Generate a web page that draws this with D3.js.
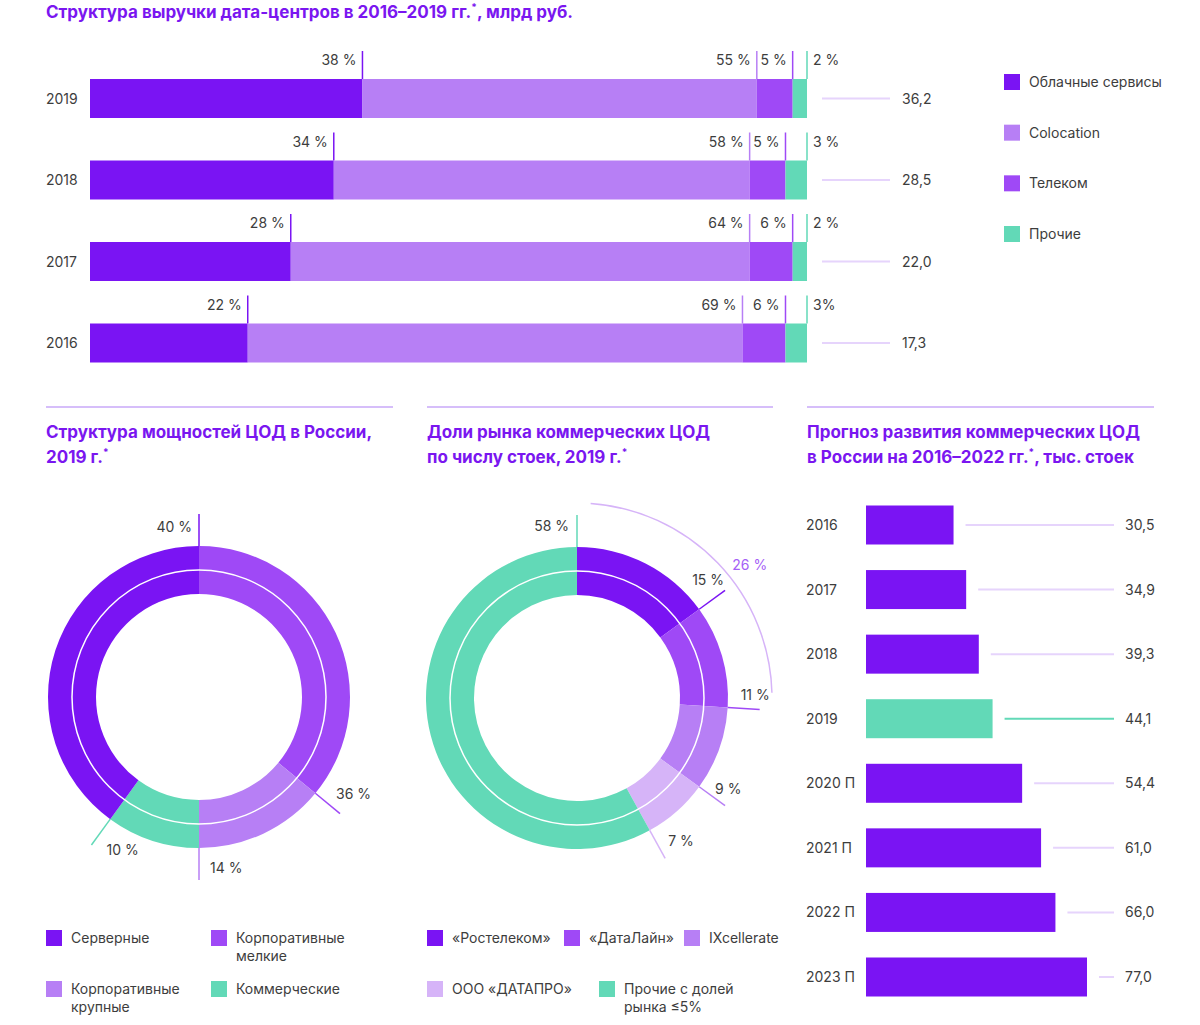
<!DOCTYPE html>
<html><head><meta charset="utf-8">
<script src="https://cdn.jsdelivr.net/npm/d3@7"></script>
<style>
body{margin:0;background:#fff}
svg text{font-family:Inter,"Noto Sans",sans-serif}
</style>
</head><body>
<script>
// ---------------- DATA ----------------
const revenueYears = ["2019", "2018", "2017", "2016"];
const revenueSeries = ["Облачные сервисы", "Colocation", "Телеком", "Прочие"];
const revenueCloud = [38, 34, 28, 22];
const revenueColo = [55, 58, 64, 69];
const revenueTelecom = [5, 5, 6, 6];
const revenueOther = [2, 3, 2, 3];
const revenueOtherLabels = ["2 %", "3 %", "2 %", "3%"];
const revenueTotals = [36.2, 28.5, 22.0, 17.3];

const capacityCats = ["Корпоративные мелкие", "Корпоративные крупные", "Коммерческие", "Серверные"];
const capacityValues = [36, 14, 10, 40];
const capacityLegendOrder = ["Серверные", "Корпоративные мелкие", "Корпоративные крупные", "Коммерческие"];

const marketCats = ["«Ростелеком»", "«ДатаЛайн»", "IXcellerate", "ООО «ДАТАПРО»", "Прочие с долей рынка ≤5%"];
const marketValues = [15, 11, 9, 7, 58];

const forecastYears = ["2016", "2017", "2018", "2019", "2020 П", "2021 П", "2022 П", "2023 П"];
const forecastValues = [30.5, 34.9, 39.3, 44.1, 54.4, 61.0, 66.0, 77.0];
const forecastHighlight = "2019";

// ---------------- STYLE ----------------
const C_DARK = "#7a14f3", C_MED = "#9f49f6", C_LIGHT = "#b77ff5", C_LAV = "#d6b4f8", C_TEAL = "#62d9b7";
const TITLE = "#7a16f0", TXT = "#3d3d3d", LINE_LAV = "#e6d4fc", DIV = "#c9a8f8";
const revenueColors = [C_DARK, C_LIGHT, C_MED, C_TEAL];
const capacityColor = d3.scaleOrdinal().domain(capacityCats).range([C_MED, C_LIGHT, C_TEAL, C_DARK]);
const marketColor = d3.scaleOrdinal().domain(marketCats).range([C_DARK, C_MED, C_LIGHT, C_LAV, C_TEAL]);
const fmt1 = v => d3.format(".1f")(v).replace(".", ",");

const svg = d3.select("body").append("svg").attr("width", 1200).attr("height", 1025);

function title(x, y, lines) {
  lines.forEach((parts, li) => {
    const t = svg.append("text").attr("x", x).attr("y", y + li * 25)
      .attr("fill", TITLE).attr("font-size", 17).attr("font-weight", 700);
    let lower = false;
    parts.forEach(p => {
      if (p === "*") {
        t.append("tspan").attr("font-size", 10).attr("dy", -7).text("*");
        lower = true;
      } else {
        const s = t.append("tspan").text(p);
        if (lower) { s.attr("dy", 7); lower = false; }
      }
    });
  });
}
function wrap(name, max) {
  const words = name.split(" "), out = [];
  let cur = "";
  words.forEach(w => {
    if (cur && (cur + " " + w).length > max) { out.push(cur); cur = w; }
    else cur = cur ? cur + " " + w : w;
  });
  out.push(cur);
  return out;
}
function legendItem(x, y, color, name, max) {
  svg.append("rect").attr("x", x).attr("y", y - 8).attr("width", 16).attr("height", 16).attr("fill", color);
  const lines = wrap(name, max);
  const t = svg.append("text").attr("x", x + 25).attr("y", y + 5).attr("font-size", 14).attr("fill", TXT);
  lines.forEach((l, i) => t.append("tspan").attr("x", x + 25).attr("dy", i ? 18 : 0).text(l));
}

// ---------------- TOP: revenue stacked bars ----------------
title(46, 18, [["Структура выручки дата-центров в 2016–2019 гг.", "*", ", млрд руб."]]);

const revRows = revenueYears.map((y, i) => ({
  year: y, cloud: revenueCloud[i], colo: revenueColo[i], telecom: revenueTelecom[i], other: revenueOther[i], total: revenueTotals[i], idx: i
}));
const revKeys = ["cloud", "colo", "telecom", "other"];
const revStack = d3.stack().keys(revKeys)(revRows);
const xRev = d3.scaleLinear().domain([0, 100]).range([90, 807]);
const yRev = d3.scalePoint().domain(revenueYears).range([98.5, 343]);
const revBarH = 39;

revStack.forEach((series, k) => {
  const g = svg.append("g");
  g.selectAll("rect").data(series).join("rect")
    .attr("x", d => xRev(d[0])).attr("width", d => xRev(d[1]) - xRev(d[0]))
    .attr("y", d => yRev(d.data.year) - revBarH / 2).attr("height", revBarH)
    .attr("fill", revenueColors[k]);
  g.selectAll("line").data(series).join("line")
    .attr("x1", d => xRev(d[1])).attr("x2", d => xRev(d[1]))
    .attr("y1", d => yRev(d.data.year) - revBarH / 2 - 28).attr("y2", d => yRev(d.data.year) - revBarH / 2)
    .attr("stroke", revenueColors[k]).attr("stroke-width", 1.5);
  g.selectAll("text").data(series).join("text")
    .attr("x", d => k < 3 ? xRev(d[1]) - 6 : xRev(d[1]) + 6)
    .attr("y", d => yRev(d.data.year) - revBarH / 2 - 14)
    .attr("text-anchor", k < 3 ? "end" : "start")
    .attr("font-size", 14).attr("fill", TXT)
    .text(d => k < 3 ? `${d.data[revKeys[k]]} %` : revenueOtherLabels[d.data.idx]);
});
const lastSeries = revStack[revStack.length - 1];
svg.append("g").selectAll("line").data(lastSeries).join("line")
  .attr("x1", d => xRev(d[1]) + 15).attr("x2", 890)
  .attr("y1", d => yRev(d.data.year)).attr("y2", d => yRev(d.data.year))
  .attr("stroke", LINE_LAV).attr("stroke-width", 2);
svg.append("g").selectAll("text").data(revRows).join("text")
  .attr("x", 902).attr("y", d => yRev(d.year) + 5)
  .attr("font-size", 14).attr("fill", TXT).text(d => fmt1(d.total));
svg.append("g").selectAll("text").data(revRows).join("text")
  .attr("x", 46).attr("y", d => yRev(d.year) + 5)
  .attr("font-size", 14).attr("fill", TXT).text(d => d.year);

const yRevLeg = d3.scalePoint().domain(revenueSeries).range([82, 234]);
revenueSeries.forEach((s, i) => legendItem(1004, yRevLeg(s), revenueColors[i], s, 40));

// ---------------- dividers & section titles ----------------
[[46, 393], [427, 773], [807, 1154]].forEach(([a, b]) =>
  svg.append("line").attr("x1", a).attr("x2", b).attr("y1", 407).attr("y2", 407)
    .attr("stroke", DIV).attr("stroke-width", 1.5));
title(46, 438, [["Структура мощностей ЦОД в России,"], ["2019 г.", "*"]]);
title(427, 438, [["Доли рынка коммерческих ЦОД"], ["по числу стоек, 2019 г.", "*"]]);
title(807, 438, [["Прогноз развития коммерческих ЦОД"], ["в России на 2016–2022 гг.", "*", ", тыс. стоек"]]);

// ---------------- donuts ----------------
const rIn = 103, rOut = 151, rTick = 183;
const arc = d3.arc().innerRadius(rIn).outerRadius(rOut);
const pie = d3.pie().sort(null).value(d => d.v);
const polar = (r, a) => [r * Math.sin(a), -r * Math.cos(a)];

function donut(cx, cy, cats, values, color, nudges) {
  const g = svg.append("g").attr("transform", `translate(${cx},${cy})`);
  const arcs = pie(cats.map((c, i) => ({ c, v: values[i] })));
  g.selectAll("path").data(arcs).join("path").attr("d", arc).attr("fill", d => color(d.data.c));
  g.append("circle").attr("r", (rIn + rOut) / 2).attr("fill", "none").attr("stroke", "#fff").attr("stroke-width", 1.5);
  g.selectAll("line").data(arcs).join("line")
    .attr("x1", d => polar(rOut, d.endAngle)[0]).attr("y1", d => polar(rOut, d.endAngle)[1])
    .attr("x2", d => polar(rTick, d.endAngle)[0]).attr("y2", d => polar(rTick, d.endAngle)[1])
    .attr("stroke", d => color(d.data.c)).attr("stroke-width", 1.5);
  g.selectAll("text").data(arcs).join("text")
    .attr("x", (d, i) => polar(rTick, d.endAngle)[0] + nudges[i][0])
    .attr("y", (d, i) => polar(rTick, d.endAngle)[1] + nudges[i][1])
    .attr("text-anchor", (d, i) => nudges[i][2])
    .attr("font-size", 14).attr("fill", TXT)
    .text(d => `${d.data.v} %`);
  return { g, arcs };
}

donut(199, 697, capacityCats, capacityValues, capacityColor,
  [[-4, -15, "start"], [11, -7, "start"], [15, 10, "start"], [-7, 18, "end"]]);

const m = donut(577, 698, marketCats, marketValues, marketColor,
  [[-1, -5, "end"], [-19, -10, "start"], [-10, -12, "start"], [3, -12, "start"], [-8, 16, "end"]]);
// bracket over the two largest named players
const grp = m.arcs.slice(0, 2);
const gEnd = grp[1].endAngle, gSum = d3.sum(grp, d => d.data.v);
const p = d3.path();
p.arc(0, 0, 195, 0.07 - Math.PI / 2, gEnd - 0.09 - Math.PI / 2);
m.g.append("path").attr("d", p.toString()).attr("fill", "none").attr("stroke", C_LAV).attr("stroke-width", 1.5);
const lp = polar(218, gEnd * 0.56);
m.g.append("text").attr("x", lp[0]).attr("y", lp[1] + 5).attr("text-anchor", "middle")
  .attr("font-size", 14).attr("fill", "#a55ff6").text(`${gSum} %`);

// legends
const capCols = [46, 211], legRows = [938, 989];
capacityLegendOrder.forEach((c, i) => legendItem(capCols[i % 2], legRows[Math.floor(i / 2)], capacityColor(c), c, 15));
const mktPos = [[427, 0], [564, 0], [684, 0], [427, 1], [599, 1]];
marketCats.forEach((c, i) => legendItem(mktPos[i][0], legRows[mktPos[i][1]], marketColor(c), c, 15));

// ---------------- forecast bars ----------------
const xF = d3.scaleLinear().domain([0, 77]).range([866, 1087]);
const yF = d3.scalePoint().domain(forecastYears).range([525, 977]);
const fH = 39;
const fRows = forecastYears.map((y, i) => ({ y, v: forecastValues[i] }));
const fColor = d => d.y === forecastHighlight ? C_TEAL : C_DARK;
svg.append("g").selectAll("rect").data(fRows).join("rect")
  .attr("x", xF(0)).attr("width", d => xF(d.v) - xF(0))
  .attr("y", d => yF(d.y) - fH / 2).attr("height", fH).attr("fill", fColor);
svg.append("g").selectAll("line").data(fRows).join("line")
  .attr("x1", d => xF(d.v) + 12).attr("x2", 1114)
  .attr("y1", d => yF(d.y)).attr("y2", d => yF(d.y))
  .attr("stroke", d => d.y === forecastHighlight ? C_TEAL : LINE_LAV).attr("stroke-width", 2);
svg.append("g").selectAll("text.v").data(fRows).join("text")
  .attr("x", 1125).attr("y", d => yF(d.y) + 5).attr("font-size", 14).attr("fill", TXT).text(d => fmt1(d.v));
svg.append("g").selectAll("text.y").data(fRows).join("text")
  .attr("x", 806).attr("y", d => yF(d.y) + 5).attr("font-size", 14).attr("fill", TXT).text(d => d.y);
</script>
</body></html>
